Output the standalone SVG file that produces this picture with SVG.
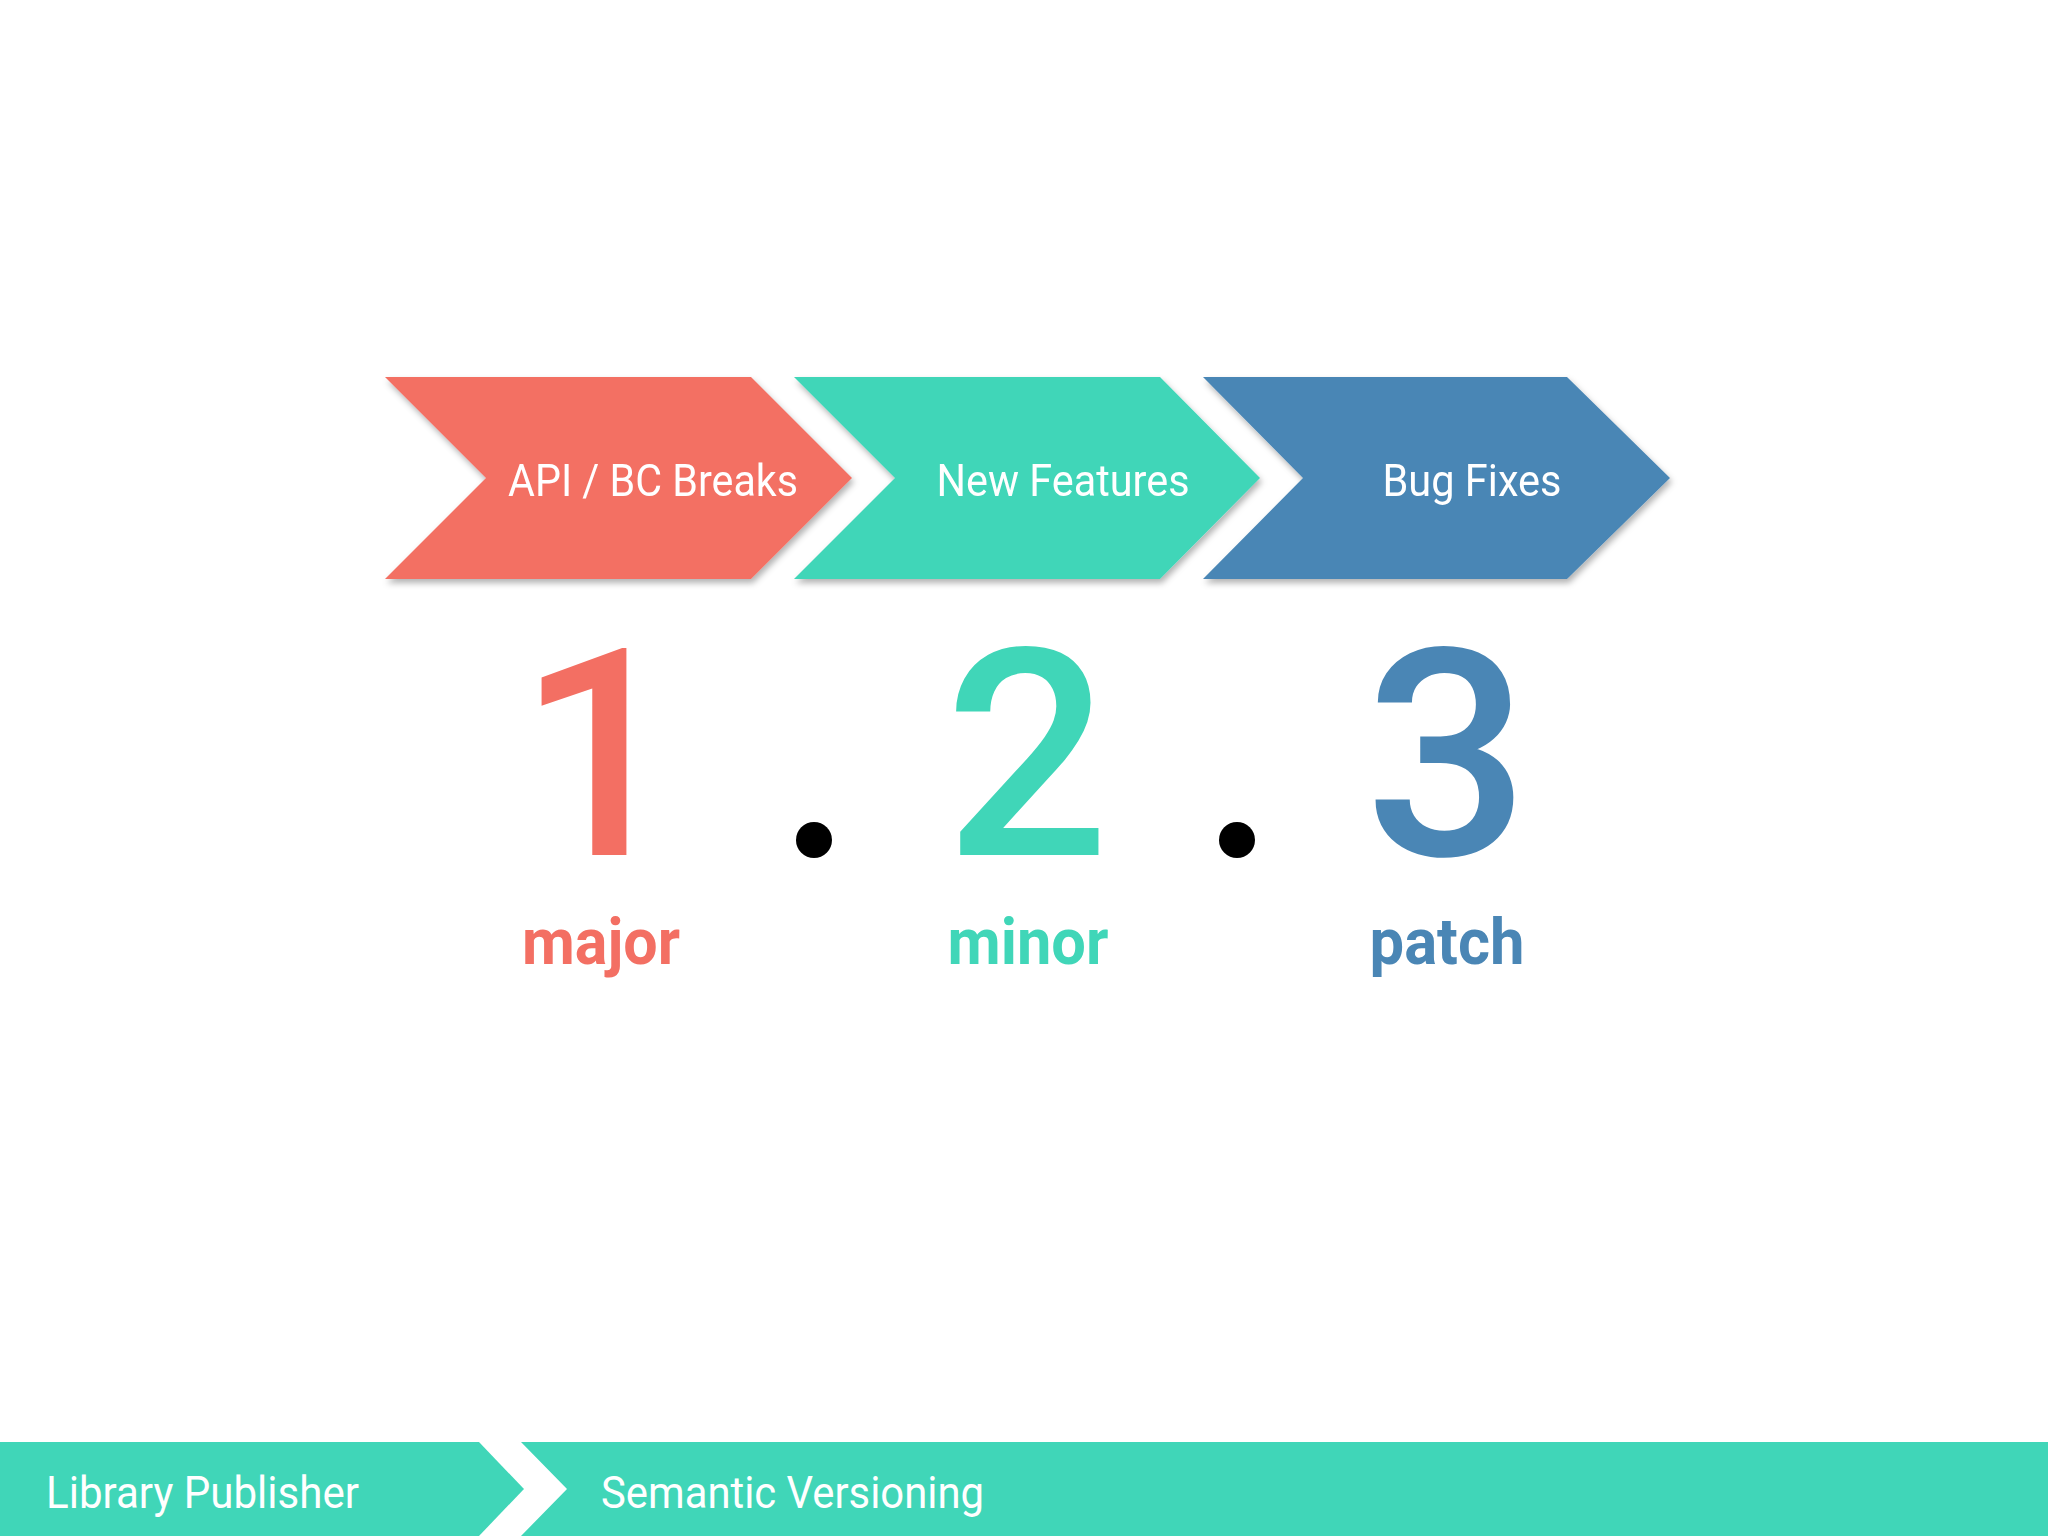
<svg xmlns="http://www.w3.org/2000/svg" width="2048" height="1536" viewBox="0 0 2048 1536">
<defs>
<filter id="sh" x="-10%" y="-10%" width="120%" height="130%"><feDropShadow dx="2" dy="4" stdDeviation="3" flood-color="#000" flood-opacity="0.3"/></filter>
<style>
.lbl{font-family:Roboto,"Liberation Sans",sans-serif;font-size:44px;fill:#fff;text-anchor:middle}
.num{font-family:Roboto,"Liberation Sans",sans-serif;font-weight:500;font-size:290px;text-anchor:middle}
.sub{font-family:Roboto,"Liberation Sans",sans-serif;font-weight:bold;font-size:64px;text-anchor:middle}
.ft{font-family:Roboto,"Liberation Sans",sans-serif;font-size:44px;fill:#fff}
</style>
</defs>
<rect width="2048" height="1536" fill="#fff"/>
<g id="major-chevron" filter="url(#sh)"><polygon points="385,377 751,377 852,478 751,579 385,579 486,478" fill="#F36F63"/><text class="lbl" x="653" y="496" textLength="290" lengthAdjust="spacingAndGlyphs">API / BC Breaks</text></g>
<g id="minor-chevron" filter="url(#sh)"><polygon points="794,377 1160,377 1260,478 1160,579 794,579 895,478" fill="#40D6B8"/><text class="lbl" x="1063" y="496" textLength="253" lengthAdjust="spacingAndGlyphs">New Features</text></g>
<g id="patch-chevron" filter="url(#sh)"><polygon points="1203,377 1567,377 1670,478 1567,579 1203,579 1303,478" fill="#4A86B5"/><text class="lbl" x="1472" y="496" textLength="179" lengthAdjust="spacingAndGlyphs">Bug Fixes</text></g>
<g id="version">
<text class="num" x="600" y="855" fill="#F36F63">1</text>
<circle cx="814" cy="840" r="18" fill="#000"/>
<text class="num" x="1027" y="855" fill="#40D6B8">2</text>
<circle cx="1237" cy="840" r="18" fill="#000"/>
<text class="num" x="1447" y="855" fill="#4A86B5">3</text>
<text class="sub" x="601" y="964" textLength="158" lengthAdjust="spacingAndGlyphs" fill="#F36F63">major</text>
<text class="sub" x="1028" y="964" textLength="161" lengthAdjust="spacingAndGlyphs" fill="#40D6B8">minor</text>
<text class="sub" x="1447" y="964" textLength="155" lengthAdjust="spacingAndGlyphs" fill="#4A86B5">patch</text>
</g>
<g id="footer">
<polygon points="0,1442 479,1442 524,1489 479,1536 0,1536" fill="#40D6B8"/>
<polygon points="521,1442 2048,1442 2048,1536 521,1536 567,1489" fill="#40D6B8"/>
<text class="ft" x="46" y="1508" textLength="313" lengthAdjust="spacingAndGlyphs">Library Publisher</text>
<text class="ft" x="601" y="1508" textLength="383" lengthAdjust="spacingAndGlyphs">Semantic Versioning</text>
</g>
</svg>
